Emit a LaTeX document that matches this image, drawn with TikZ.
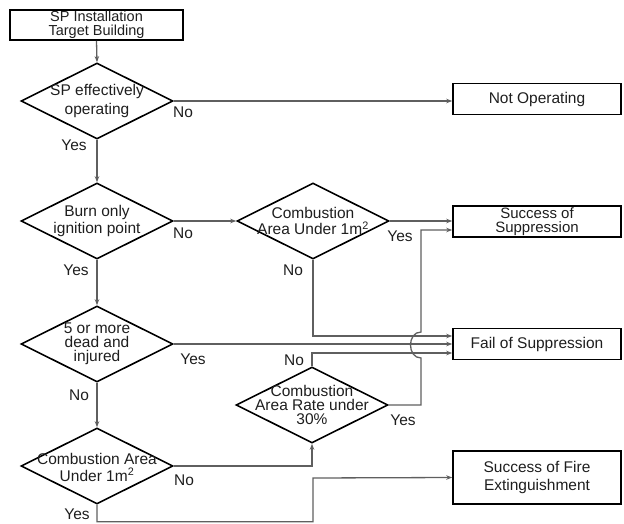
\documentclass[tikz,border=0pt]{standalone}
\usepackage{fontspec}
\setmainfont{Liberation Sans}
\usetikzlibrary{shapes.geometric,arrows.meta}
\definecolor{conncol}{RGB}{95,95,95}
\definecolor{txtcol}{RGB}{30,30,30}
\tikzset{
  dia/.style={shape=diamond,draw=black,line width=1.6pt,minimum width=152pt,minimum height=76pt,inner sep=0pt},
  endbox/.style={draw=black,line width=1.6pt,minimum width=168pt,inner sep=0pt},
  txt/.style={font=\fontsize{15.5}{14}\selectfont,text=txtcol,align=center,inner sep=0pt},
  lbl/.style={font=\fontsize{15.5}{18}\selectfont,text=txtcol,inner sep=0pt},
  conn/.style={draw=conncol,line width=1.3pt,-{Stealth[length=6pt,width=4.5pt]}},
  line/.style={draw=conncol,line width=1.3pt}
}
\begin{document}
\begin{tikzpicture}[x=1pt,y=-1pt]
\useasboundingbox (0,0) rectangle (624,524);
% boxes
\node[endbox,minimum width=173pt,minimum height=30pt] (b0) at (96.5,25) {};
\node[txt,font=\fontsize{14.5}{13.5}\selectfont] at (b0) {SP Installation\\Target Building};
\node[endbox,minimum height=31pt] (b1) at (537,99) {};
\node[txt] at (b1) {Not Operating};
\node[endbox,minimum height=31pt] (b2) at (537,221.5) {};
\node[txt,font=\fontsize{15}{13.5}\selectfont] at (b2) {Success of\\Suppression};
\node[endbox,minimum height=31pt] (b3) at (537,344) {};
\node[txt] at (b3) {Fail of Suppression};
\node[endbox,minimum height=53pt] (b4) at (537,477.5) {};
\node[txt,font=\fontsize{15.5}{18}\selectfont] at (b4) {Success of Fire\\Extinguishment};
% diamonds
\node[dia] (d1) at (97,101) {};
\node[txt,font=\fontsize{15.5}{19}\selectfont] at (d1) {SP effectively\\operating};
\node[dia] (d2) at (97,221) {};
\node[txt,font=\fontsize{15.5}{17}\selectfont] at (d2) {Burn only\\ignition point};
\node[dia] (d3) at (313,221) {};
\node[txt,font=\fontsize{15.5}{16.5}\selectfont] at (d3) {Combustion\\Area Under 1m\textsuperscript{2}};
\node[dia] (d5) at (97,344) {};
\node[txt] at (d5) {5 or more\\dead and\\injured};
\node[dia] (d4) at (312,405) {};
\node[txt] at (d4) {Combustion\\Area Rate under\\30\%};
\node[dia] (d6) at (97,466) {};
\node[txt,font=\fontsize{15.5}{17}\selectfont] at ([yshift=-1pt]d6) {Combustion Area\\Under 1m\textsuperscript{2}};
% coordinates
\coordinate (hb) at (421,358);
\coordinate (ht) at (421,332);
\coordinate (e1) at (313,478);
% connectors
\draw[conn] (b0.south) -- (d1.north);
\draw[conn] (d1.east) -- (d1.east -| b1.west);
\draw[conn] (d1.south) -- (d2.north);
\draw[conn] (d2.east) -- (d3.west);
\draw[conn] (d2.south) -- (d5.north);
\draw[conn] (d5.south) -- (d6.north);
\draw[conn] (d3.east) -- (d3.east -| b2.west);
\draw[conn] (d3.south) |- ([yshift=8pt]b3.west);
\draw[conn] (d5.east) -- (b3.west);
\draw[conn] (d4.north) |- ([yshift=-9pt]b3.west);
\draw[conn] (d6.east) -| (d4.south);
\draw[conn] (d4.east) -| (hb) .. controls (407,358) and (407,332) .. (ht) |- ([yshift=-8.5pt]b2.west);
\draw[conn] (d6.south) -- ++(0,17) -| (e1) -- (b4.west);
% labels
\node[lbl] at (183,112) {No};
\node[lbl] at (74,145) {Yes};
\node[lbl] at (183,233) {No};
\node[lbl] at (76,270) {Yes};
\node[lbl] at (400,236) {Yes};
\node[lbl] at (293,270) {No};
\node[lbl] at (193,359) {Yes};
\node[lbl] at (79,395) {No};
\node[lbl] at (294,360) {No};
\node[lbl] at (403,420) {Yes};
\node[lbl] at (184,480) {No};
\node[lbl] at (77,514) {Yes};
\end{tikzpicture}
\end{document}
